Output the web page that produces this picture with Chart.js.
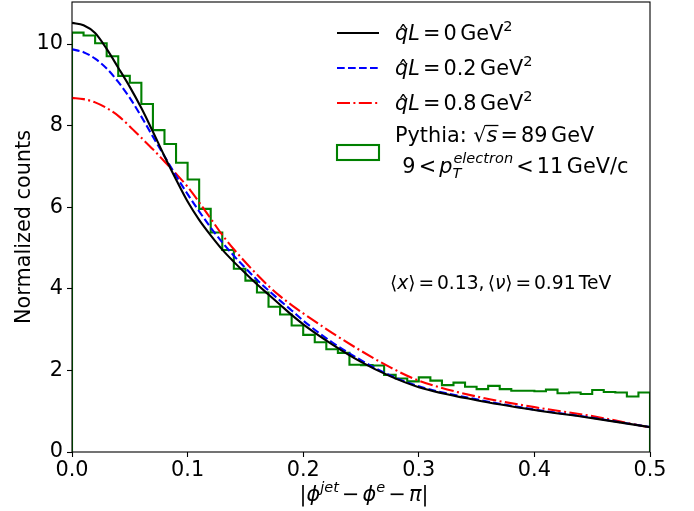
<!DOCTYPE html>
<html>
<head>
<meta charset="utf-8">
<script src="https://cdn.jsdelivr.net/npm/chart.js@4.4.1/dist/chart.umd.min.js"></script>
<style>
  html, body { margin: 0; padding: 0; background: #fff; }
  #wrap { width: 694px; height: 511px; }
</style>
</head>
<body>
<div id="wrap"><canvas id="phiChart" width="694" height="511"></canvas></div>
<script>
// ── data ──
var curveX = [0, 0.01, 0.02, 0.03, 0.04, 0.05, 0.06, 0.07, 0.08, 0.09, 0.10,
              0.11, 0.12, 0.13, 0.14, 0.15, 0.16, 0.17, 0.18, 0.19, 0.20,
              0.225, 0.25, 0.275, 0.30, 0.35, 0.40, 0.45, 0.50];
var qL0  = [10.52, 10.46, 10.27, 9.88, 9.42, 8.95, 8.43, 7.85, 7.25, 6.68, 6.14,
            5.69, 5.31, 4.96, 4.66, 4.38, 4.11, 3.86, 3.61, 3.36, 3.13,
            2.64, 2.21, 1.86, 1.59, 1.27, 1.03, 0.83, 0.61];
var qL02 = [9.87, 9.80, 9.64, 9.40, 9.07, 8.68, 8.22, 7.73, 7.25, 6.77, 6.32,
            5.90, 5.50, 5.14, 4.81, 4.51, 4.22, 3.96, 3.71, 3.47, 3.22,
            2.69, 2.25, 1.88, 1.61, 1.29, 1.04, 0.84, 0.61];
var qL08 = [8.68, 8.65, 8.57, 8.43, 8.24, 7.98, 7.70, 7.42, 7.12, 6.82, 6.50,
            6.12, 5.72, 5.32, 4.97, 4.65, 4.35, 4.07, 3.82, 3.60, 3.40,
            2.92, 2.48, 2.08, 1.75, 1.36, 1.10, 0.88, 0.60];

// Pythia histogram, 50 bins of width 0.01 on [0, 0.5]
var histLo = 0, histHi = 0.5;
var pythiaCounts = [10.28, 10.21, 10.02, 9.70, 9.22, 9.05, 8.53, 7.89, 7.55, 7.09,
                    6.68, 5.96, 5.38, 4.95, 4.49, 4.20, 3.91, 3.56, 3.37, 3.10,
                    2.87, 2.69, 2.52, 2.43, 2.14, 2.13, 2.12, 1.89, 1.80, 1.73,
                    1.83, 1.75, 1.64, 1.70, 1.60, 1.54, 1.62, 1.54, 1.50, 1.50,
                    1.49, 1.53, 1.44, 1.46, 1.42, 1.52, 1.47, 1.46, 1.36, 1.46];

var xTicks = [0, 0.1, 0.2, 0.3, 0.4, 0.5];
var yTicks = [0, 2, 4, 6, 8, 10];

var FS = 20.8;
var FONT = '"DejaVu Sans", sans-serif';

// ── build datasets ──
function curve(ys) {
    return curveX.map(function(x, i) { return { x: x, y: ys[i] }; });
}
var binW = (histHi - histLo) / pythiaCounts.length;
var histPts = [{ x: histLo, y: 0 }];
pythiaCounts.forEach(function(v, i) { histPts.push({ x: histLo + i * binW, y: v }); });
histPts.push({ x: histHi, y: 0 });

// ── mathtext-ish drawing helper ──
// part: { t, i (italic), s: 'sup'|'sub', hat, over, pair: [sub, sup], g: gap in em }
function drawParts(ctx, x, y, parts, size, measureOnly) {
    var x0 = x;
    parts.forEach(function(p) {
        if (p.g) { x += p.g * size; return; }
        if (p.pair) {
            var small = size * 0.7;
            ctx.font = 'italic ' + small + 'px ' + FONT;
            var w1 = ctx.measureText(p.pair[0]).width;
            var w2 = ctx.measureText(p.pair[1]).width;
            if (!measureOnly) {
                ctx.fillText(p.pair[0], x, y + size * 0.24);
                ctx.fillText(p.pair[1], x + 1, y - size * 0.5);
            }
            x += Math.max(w1, w2 + 1);
            return;
        }
        var fs = p.s ? size * 0.7 : size;
        ctx.font = (p.i ? 'italic ' : '') + fs + 'px ' + FONT;
        var dy = p.s === 'sup' ? -size * 0.42 : (p.s === 'sub' ? size * 0.2 : 0);
        var w = ctx.measureText(p.t).width;
        if (!measureOnly) {
            ctx.fillText(p.t, x, y + dy);
            if (p.hat) {
                ctx.font = fs + 'px ' + FONT;
                var hw = ctx.measureText('\u02C6').width;
                ctx.fillText('\u02C6', x + (w - hw) / 2 + size * 0.08, y + dy + 1);
            }
            if (p.over) {
                ctx.fillRect(x - 1, y - size * 0.8, w + 2, 1.3);
            }
        }
        x += w;
    });
    return x - x0;
}

var REL = 0.15;   // space around = and <
var BIN = 0.15;   // space around binary minus

var textPlugin = {
    id: 'textPlugin',
    afterDraw: function(chart) {
        var ctx = chart.ctx;
        var a = chart.chartArea;
        ctx.save();

        // frame
        ctx.strokeStyle = '#000';
        ctx.lineWidth = 1.1;
        ctx.strokeRect(a.left, a.top, a.right - a.left, a.bottom - a.top);

        ctx.fillStyle = '#000';
        ctx.textBaseline = 'alphabetic';
        ctx.textAlign = 'left';

        // y label
        ctx.save();
        ctx.translate(29.5, (a.top + a.bottom) / 2);
        ctx.rotate(-Math.PI / 2);
        ctx.font = FS + 'px ' + FONT;
        ctx.textAlign = 'center';
        ctx.fillText('Normalized counts', 0, 0);
        ctx.restore();

        // x label
        var xl = [
            { t: '|' }, { t: '\u03D5', i: true }, { t: 'jet', i: true, s: 'sup' },
            { g: BIN }, { t: '\u2212' }, { g: BIN }, { t: '\u03D5', i: true }, { t: 'e', i: true, s: 'sup' },
            { g: BIN }, { t: '\u2212' }, { g: BIN }, { t: '\u03C0', i: true }, { t: '|' }
        ];
        var wx = drawParts(ctx, 0, 0, xl, FS, true);
        drawParts(ctx, (a.left + a.right) / 2 - wx / 2 + 3, 501, xl, FS);

        // annotation
        drawParts(ctx, 390, 289, [
            { t: '\u27E8' }, { t: 'x', i: true }, { t: '\u27E9' }, { g: REL }, { t: '=' }, { g: REL },
            { t: '0.13,' }, { g: 0.17 }, { t: '\u27E8' }, { t: '\u03BD', i: true }, { t: '\u27E9' },
            { g: REL }, { t: '=' }, { g: REL }, { t: '0.91' }, { g: 0.17 }, { t: 'TeV' }
        ], 18.7);

        // legend
        var lx0 = 337, lx1 = 379, tx = 395;
        var rows = [
            { y: 33, color: '#000000', dash: [], val: '0' },
            { y: 68, color: '#0000ff', dash: [7.7, 3.3], val: '0.2' },
            { y: 103, color: '#ff0000', dash: [13, 3.4, 2, 3.4], val: '0.8' }
        ];
        rows.forEach(function(r) {
            ctx.save();
            ctx.strokeStyle = r.color;
            ctx.lineWidth = 2.1;
            ctx.setLineDash(r.dash);
            ctx.beginPath();
            ctx.moveTo(lx0, r.y);
            ctx.lineTo(lx1, r.y);
            ctx.stroke();
            ctx.restore();
            drawParts(ctx, tx, r.y + 6.8, [
                { t: 'q', i: true, hat: true }, { t: 'L', i: true },
                { g: REL }, { t: '=' }, { g: REL }, { t: r.val }, { g: 0.17 }, { t: 'GeV' }, { t: '2', s: 'sup' }
            ], FS);
        });

        ctx.save();
        ctx.strokeStyle = '#008000';
        ctx.lineWidth = 2.1;
        ctx.strokeRect(lx0, 145, lx1 - lx0, 15);
        ctx.restore();

        drawParts(ctx, tx, 141.5, [
            { t: 'Pythia: \u221A' }, { t: 's', i: true, over: true },
            { g: REL }, { t: '=' }, { g: REL }, { t: '89' }, { g: 0.17 }, { t: 'GeV' }
        ], FS);
        drawParts(ctx, tx, 173, [
            { g: 0.35 }, { t: '9' }, { g: REL }, { t: '<' }, { g: REL }, { t: 'p', i: true },
            { pair: ['T', 'electron'] },
            { g: REL }, { t: '<' }, { g: REL }, { t: '11' }, { g: 0.17 }, { t: 'GeV/c' }
        ], FS);

        ctx.restore();
    }
};

var tickFont = { family: FONT, size: FS };

new Chart(document.getElementById('phiChart').getContext('2d'), {
    type: 'line',
    data: {
        datasets: [
            { label: 'qL = 0', data: curve(qL0), borderColor: '#000000', borderWidth: 2.1,
              pointRadius: 0, fill: false, cubicInterpolationMode: 'monotone' },
            { label: 'qL = 0.2', data: curve(qL02), borderColor: '#0000ff', borderWidth: 2.1,
              borderDash: [7.7, 3.3], pointRadius: 0, fill: false, cubicInterpolationMode: 'monotone' },
            { label: 'qL = 0.8', data: curve(qL08), borderColor: '#ff0000', borderWidth: 2.1,
              borderDash: [13, 3.4, 2, 3.4], pointRadius: 0, fill: false, cubicInterpolationMode: 'monotone' },
            { label: 'Pythia', data: histPts, borderColor: '#008000', borderWidth: 2.1,
              pointRadius: 0, fill: false, stepped: 'before' }
        ]
    },
    options: {
        responsive: false,
        devicePixelRatio: 1,
        animation: false,
        layout: { padding: { left: 0, right: 44, top: 2, bottom: 0 } },
        plugins: { legend: { display: false }, tooltip: { enabled: false } },
        scales: {
            x: {
                type: 'linear', min: 0, max: 0.5,
                afterFit: function(s) { s.height = 59; s.paddingLeft = 0; s.paddingRight = 0; },
                afterBuildTicks: function(s) { s.ticks = xTicks.map(function(v) { return { value: v }; }); },
                ticks: { font: tickFont, color: '#000', padding: 1, maxRotation: 0,
                         callback: function(v) { return v.toFixed(1); } },
                grid: { drawOnChartArea: false, tickLength: 5, color: '#000', tickWidth: 1.1 },
                border: { display: false }
            },
            y: {
                min: 0, max: 11.03,
                afterFit: function(s) { s.width = 72; s.paddingTop = 0; s.paddingBottom = 0; },
                afterBuildTicks: function(s) { s.ticks = yTicks.map(function(v) { return { value: v }; }); },
                ticks: { font: tickFont, color: '#000', padding: 4,
                         callback: function(v) { return String(v); } },
                grid: { drawOnChartArea: false, tickLength: 5, color: '#000', tickWidth: 1.1 },
                border: { display: false }
            }
        }
    },
    plugins: [textPlugin]
});
</script>
</body>
</html>
